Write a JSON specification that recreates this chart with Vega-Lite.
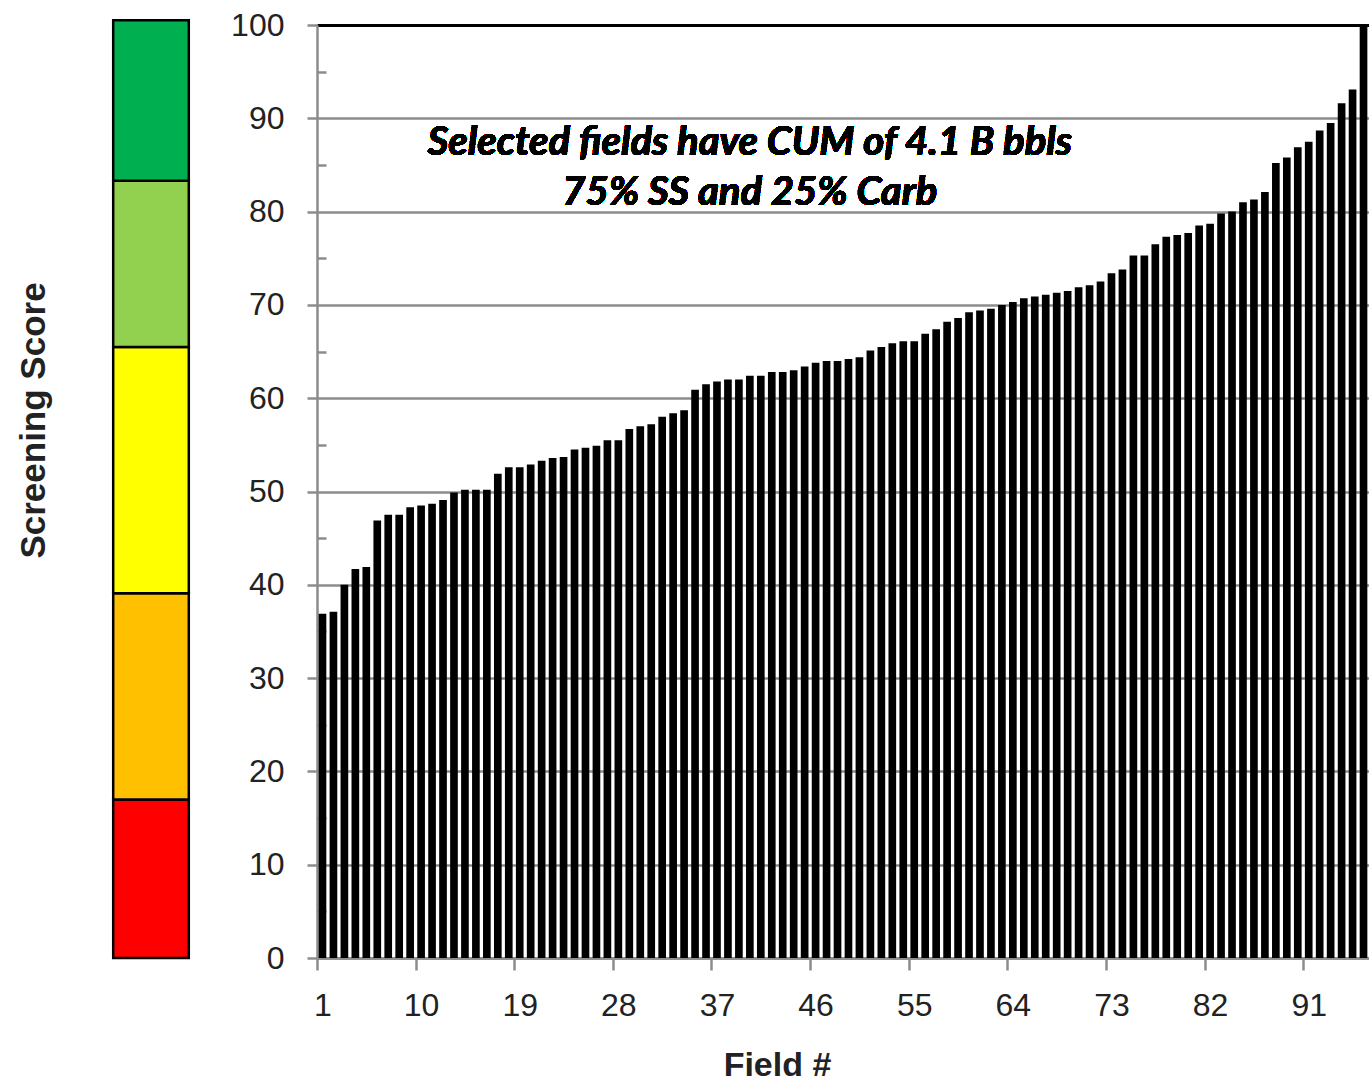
{
  "$schema": "https://vega.github.io/schema/vega-lite/v6.json",
  "background": "white",
  "padding": {"left": 16, "top": 9, "right": 0, "bottom": 0},
  "bounds": "flush",
  "spacing": 124,
  "config": {
    "view": {"stroke": null},
    "axis": {"labelFont": "Liberation Sans", "titleFont": "Liberation Sans"}
  },
  "hconcat": [
    {
      "width": 84,
      "height": 933,
      "data": {"values": [
        {"band": "red", "lo": 0, "hi": 17.0},
        {"band": "orange", "lo": 17.0, "hi": 39.1},
        {"band": "yellow", "lo": 39.1, "hi": 65.5},
        {"band": "lightgreen", "lo": 65.5, "hi": 83.3},
        {"band": "green", "lo": 83.3, "hi": 100.5}
      ]},
      "mark": {"type": "bar", "stroke": "black", "strokeWidth": 2.5, "clip": false},
      "encoding": {
        "y": {
          "field": "lo", "type": "quantitative",
          "scale": {"domain": [0, 100], "nice": false},
          "axis": {
            "title": "Screening Score", "labels": false, "ticks": false, "domain": false, "grid": false,
            "titleFontSize": 35, "titleFontWeight": "bold", "titleColor": "#222",
            "titleX": -76, "titleY": 395, "titleBaseline": "middle", "titleAlign": "center"
          }
        },
        "y2": {"field": "hi"},
        "color": {
          "field": "band", "type": "nominal",
          "scale": {"domain": ["red", "orange", "yellow", "lightgreen", "green"], "range": ["#FF0000", "#FFC000", "#FFFF00", "#92D050", "#00B050"]},
          "legend": null
        }
      }
    },
    {
      "width": 1052,
      "height": 933,
      "data": {"values": [
        {"field": 1, "score": 36.9}, {"field": 2, "score": 37.1}, {"field": 3, "score": 40.0}, {"field": 4, "score": 41.7},
        {"field": 5, "score": 41.9}, {"field": 6, "score": 46.9}, {"field": 7, "score": 47.5}, {"field": 8, "score": 47.5},
        {"field": 9, "score": 48.3}, {"field": 10, "score": 48.5}, {"field": 11, "score": 48.7}, {"field": 12, "score": 49.1},
        {"field": 13, "score": 49.9}, {"field": 14, "score": 50.2}, {"field": 15, "score": 50.2}, {"field": 16, "score": 50.2},
        {"field": 17, "score": 51.9}, {"field": 18, "score": 52.6}, {"field": 19, "score": 52.6}, {"field": 20, "score": 52.9},
        {"field": 21, "score": 53.3}, {"field": 22, "score": 53.6}, {"field": 23, "score": 53.7}, {"field": 24, "score": 54.5},
        {"field": 25, "score": 54.7}, {"field": 26, "score": 54.9}, {"field": 27, "score": 55.5}, {"field": 28, "score": 55.5},
        {"field": 29, "score": 56.7}, {"field": 30, "score": 57.0}, {"field": 31, "score": 57.2}, {"field": 32, "score": 58.0},
        {"field": 33, "score": 58.4}, {"field": 34, "score": 58.7}, {"field": 35, "score": 60.9}, {"field": 36, "score": 61.5},
        {"field": 37, "score": 61.8}, {"field": 38, "score": 62.0}, {"field": 39, "score": 62.0}, {"field": 40, "score": 62.4},
        {"field": 41, "score": 62.4}, {"field": 42, "score": 62.8}, {"field": 43, "score": 62.8}, {"field": 44, "score": 63.0},
        {"field": 45, "score": 63.4}, {"field": 46, "score": 63.8}, {"field": 47, "score": 64.0}, {"field": 48, "score": 64.0},
        {"field": 49, "score": 64.2}, {"field": 50, "score": 64.4}, {"field": 51, "score": 65.1}, {"field": 52, "score": 65.5},
        {"field": 53, "score": 65.9}, {"field": 54, "score": 66.1}, {"field": 55, "score": 66.1}, {"field": 56, "score": 66.9},
        {"field": 57, "score": 67.4}, {"field": 58, "score": 68.2}, {"field": 59, "score": 68.6}, {"field": 60, "score": 69.2},
        {"field": 61, "score": 69.4}, {"field": 62, "score": 69.6}, {"field": 63, "score": 70.0}, {"field": 64, "score": 70.3},
        {"field": 65, "score": 70.7}, {"field": 66, "score": 70.9}, {"field": 67, "score": 71.1}, {"field": 68, "score": 71.3},
        {"field": 69, "score": 71.5}, {"field": 70, "score": 71.9}, {"field": 71, "score": 72.1}, {"field": 72, "score": 72.5},
        {"field": 73, "score": 73.4}, {"field": 74, "score": 73.8}, {"field": 75, "score": 75.3}, {"field": 76, "score": 75.3},
        {"field": 77, "score": 76.5}, {"field": 78, "score": 77.3}, {"field": 79, "score": 77.5}, {"field": 80, "score": 77.7},
        {"field": 81, "score": 78.5}, {"field": 82, "score": 78.7}, {"field": 83, "score": 79.8}, {"field": 84, "score": 80.0},
        {"field": 85, "score": 81.0}, {"field": 86, "score": 81.3}, {"field": 87, "score": 82.1}, {"field": 88, "score": 85.2},
        {"field": 89, "score": 85.8}, {"field": 90, "score": 86.9}, {"field": 91, "score": 87.5}, {"field": 92, "score": 88.7},
        {"field": 93, "score": 89.5}, {"field": 94, "score": 91.6}, {"field": 95, "score": 93.1}, {"field": 96, "score": 100}
      ]},
      "layer": [
        {
          "mark": {"type": "bar", "color": "black"},
          "encoding": {
            "x": {
              "field": "field", "type": "ordinal",
              "scale": {"paddingInner": 0.3, "paddingOuter": 0.15},
              "axis": {
                "values": [1, 10, 19, 28, 37, 46, 55, 64, 73, 82, 91],
                "labelAngle": 0, "labelFontSize": 32, "labelColor": "#222", "labelPadding": 20,
                "tickOffset": -5.5, "labelOffset": 5.5,
                "tickSize": 12, "tickColor": "#8c8c8c", "tickWidth": 2.5,
                "domainColor": "#8c8c8c", "domainWidth": 2.5,
                "title": "Field #", "titleFontSize": 34, "titleFontWeight": "bold", "titleColor": "#222",
                "titleX": 460, "titleY": 107, "titleBaseline": "middle", "titleAlign": "center"
              }
            },
            "y": {
              "field": "score", "type": "quantitative",
              "scale": {"domain": [0, 100], "nice": false},
              "axis": {
                "title": null,
                "values": [0, 5, 10, 15, 20, 25, 30, 35, 40, 45, 50, 55, 60, 65, 70, 75, 80, 85, 90, 95, 100],
                "labelExpr": "datum.value % 10 === 0 ? datum.label : ''",
                "labelFontSize": 32, "labelColor": "#222", "labelPadding": 23,
                "tickColor": "#8c8c8c", "tickWidth": 2.5,
                "tickSize": {"condition": {"test": "datum.value % 10 !== 0", "value": -9}, "value": 10},
                "domainColor": "#8c8c8c", "domainWidth": 2.5,
                "grid": true,
                "gridColor": {"condition": {"test": "datum.value === 100", "value": "black"}, "value": "#8c8c8c"},
                "gridWidth": {"condition": {"test": "datum.value === 100", "value": 3}, "value": 2.5},
                "gridOpacity": {"condition": {"test": "datum.value % 10 !== 0", "value": 0}, "value": 1}
              }
            }
          }
        },
        {
          "mark": {"type": "text", "font": "Lato", "fontSize": 40, "fontStyle": "italic", "fontWeight": "bold", "color": "black", "align": "center", "baseline": "middle"},
          "encoding": {
            "x": {"datum": 40, "type": "ordinal"},
            "y": {"datum": 87.3, "type": "quantitative"},
            "text": {"value": "Selected fields have CUM of 4.1 B bbls"}
          }
        },
        {
          "mark": {"type": "text", "font": "Lato", "fontSize": 40, "fontStyle": "italic", "fontWeight": "bold", "color": "black", "align": "center", "baseline": "middle"},
          "encoding": {
            "x": {"datum": 40, "type": "ordinal"},
            "y": {"datum": 82.0, "type": "quantitative"},
            "text": {"value": "75% SS and 25% Carb"}
          }
        }
      ]
    }
  ]
}
